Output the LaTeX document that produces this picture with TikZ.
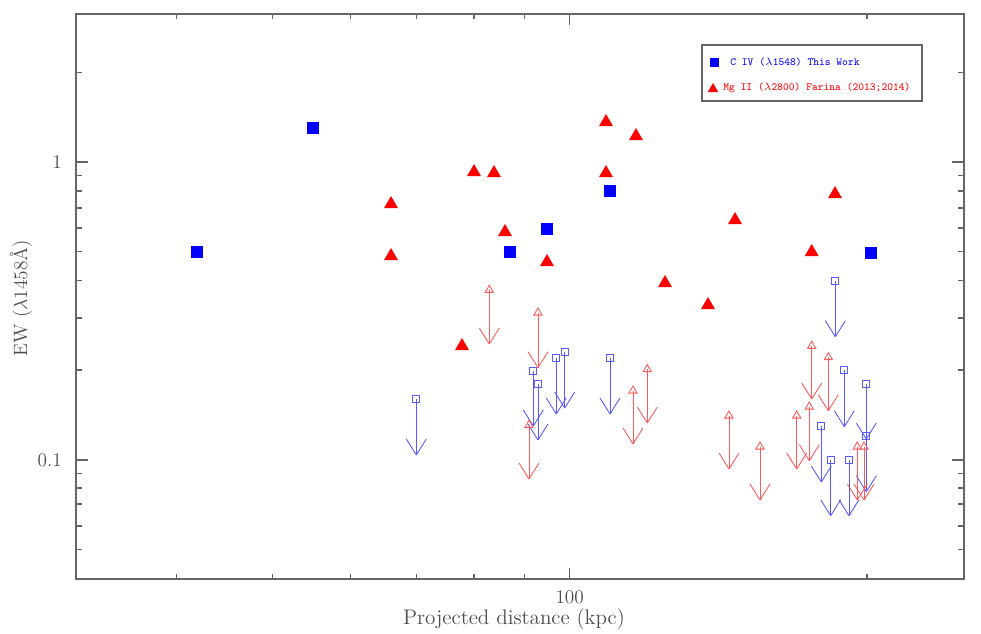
\documentclass[tikz,border=0pt]{standalone}
\usepackage{amsmath}
\usetikzlibrary{shapes.geometric}

\begin{document}
\begin{tikzpicture}[x=0.02cm,y=-0.02cm]
  \tikzset{AxisStyle/.style = {
    draw          = black!60,
    line width    = 0.8pt
    }
  }
  \tikzset{CivStyle/.style = {
    shape         = rectangle,
    draw          = none,
    fill          = blue,
    inner sep     = 0pt,
    minimum size  = 0.23cm
    }
  }
  \tikzset{MgiiStyle/.style = {
    shape         = regular polygon,
    regular polygon sides = 3,
    draw          = none,
    fill          = red,
    inner sep     = 0pt,
    minimum size  = 0.32cm
    }
  }
  \tikzset{CivLimStyle/.style = {
    shape         = rectangle,
    draw          = blue!65,
    line width    = 0.5pt,
    inner sep     = 0pt,
    minimum size  = 0.14cm
    }
  }
  \tikzset{MgiiLimStyle/.style = {
    shape         = regular polygon,
    regular polygon sides = 3,
    draw          = red!65,
    line width    = 0.5pt,
    inner sep     = 0pt,
    minimum size  = 0.19cm
    }
  }
  \tikzset{LimEdgeStyle/.style = {
    line width    = 0.5pt
    }
  }
  \tikzset{LegendStyle/.style = {
    font          = \ttfamily\fontsize{6.2}{7}\selectfont,
    anchor        = west,
    inner sep     = 0pt
    }
  }

  \useasboundingbox (0,0) rectangle (981,633);

  % frame and ticks
  \draw[AxisStyle] (76,14) rectangle (964,579);
  \foreach \v in {0.05,0.06,0.07,0.08,0.09,0.2,0.3,0.4,0.5,0.6,0.7,0.8,0.9,2}{
    \pgfmathsetmacro\yy{162-298*log10(\v)}
    \draw[AxisStyle] (76,\yy) -- (82,\yy);
    \draw[AxisStyle] (964,\yy) -- (958,\yy);
  }
  \foreach \v in {1,0.1}{
    \pgfmathsetmacro\yy{162-298*log10(\v)}
    \draw[AxisStyle] (76,\yy) -- (88,\yy);
    \draw[AxisStyle] (964,\yy) -- (952,\yy);
  }
  \foreach \d in {40,50,60,70,80,90,200}{
    \pgfmathsetmacro\xx{569.7+988*log10(\d/100)}
    \draw[AxisStyle] (\xx,579) -- (\xx,574);
    \draw[AxisStyle] (\xx,14) -- (\xx,19);
  }
  \draw[AxisStyle] (569.7,579) -- (569.7,568);
  \draw[AxisStyle] (569.7,14) -- (569.7,25);

  % axis labels
  \node[anchor=east, text=black!70, font=\fontsize{11}{12}\selectfont] (ylab1) at (68,162) {1};
  \node[anchor=east, text=black!70, font=\fontsize{11}{12}\selectfont] (ylab01) at (68,460) {0.1};
  \node[text=black!70, font=\fontsize{11}{12}\selectfont] (xlab100) at (569.7,597) {100};
  \node[text=black!70, font=\fontsize{12}{13}\selectfont] (xtitle) at (514,619) {Projected distance (kpc)};
  \node[text=black!70, rotate=90, font=\fontsize{11}{12}\selectfont] (ytitle) at (21,298) {EW ($\lambda$1458\AA)};

  % detections
  \foreach \x/\y [count=\i] in {197/252, 313/128, 510/252, 547/229, 610/191, 871/253}
    \node[CivStyle] (C\i) at (\x,\y) {};
  \foreach \x/\y [count=\i] in {391/204, 391/256, 474/172, 494/173, 505/232, 547/262, 462/346,
      606/122, 606/173, 636/136, 665/283, 708/305, 735/220, 811.7/252, 835/194}
    \node[MgiiStyle] (M\i) at (\x,\y) {};

  % upper limits
  \foreach \x/\y/\t [count=\i] in {416.3/399.3/455, 533.3/370.7/426, 538/384/440, 556.3/358/414,
      564.7/352.3/408, 610/358/414, 835.3/281/336.7, 844.3/370.3/426.7, 866.3/384/439,
      821.3/426/482, 830.7/460/515.7, 849/460/515.7, 866.3/436.3/491.7}{
    \node[CivLimStyle] (CL\i) at (\x,\y) {};
    \coordinate (CT\i) at (\x,\t);
    \draw[LimEdgeStyle, blue!65] (CL\i.center) -- (CT\i);
    \draw[LimEdgeStyle, blue!65] (CT\i) -- ++(-10,-16) (CT\i) -- ++(10,-16);
  }
  \foreach \x/\y/\t [count=\i] in {489.3/290/344, 538/312.7/367.7, 529/425/479, 633/390.7/444,
      647.3/369.3/423, 729/415.7/469, 760/446.7/500, 796.7/415.7/469, 809.3/406.7/460.7,
      811.7/346/399, 828.3/357.3/410.7, 857.3/446.7/500, 864/446.7/500}{
    \node[MgiiLimStyle] (ML\i) at (\x,\y) {};
    \coordinate (MT\i) at (\x,\t);
    \draw[LimEdgeStyle, red!65] (ML\i.center) -- (MT\i);
    \draw[LimEdgeStyle, red!65] (MT\i) -- ++(-10,-16) (MT\i) -- ++(10,-16);
  }

  % legend
  \draw[AxisStyle, line width=0.6pt] (702,45) rectangle (922,101);
  \node[CivStyle, minimum size=0.18cm] (LegC) at (714,62) {};
  \node[MgiiStyle, minimum size=0.24cm] (LegM) at (713,89) {};
  \node[LegendStyle, text=blue] (LegCtext) at (730,62) {C IV ($\lambda$1548) This Work};
  \node[LegendStyle, text=red] (LegMtext) at (723,88) {Mg II ($\lambda$2800) Farina (2013;2014)};
\end{tikzpicture}
\end{document}
